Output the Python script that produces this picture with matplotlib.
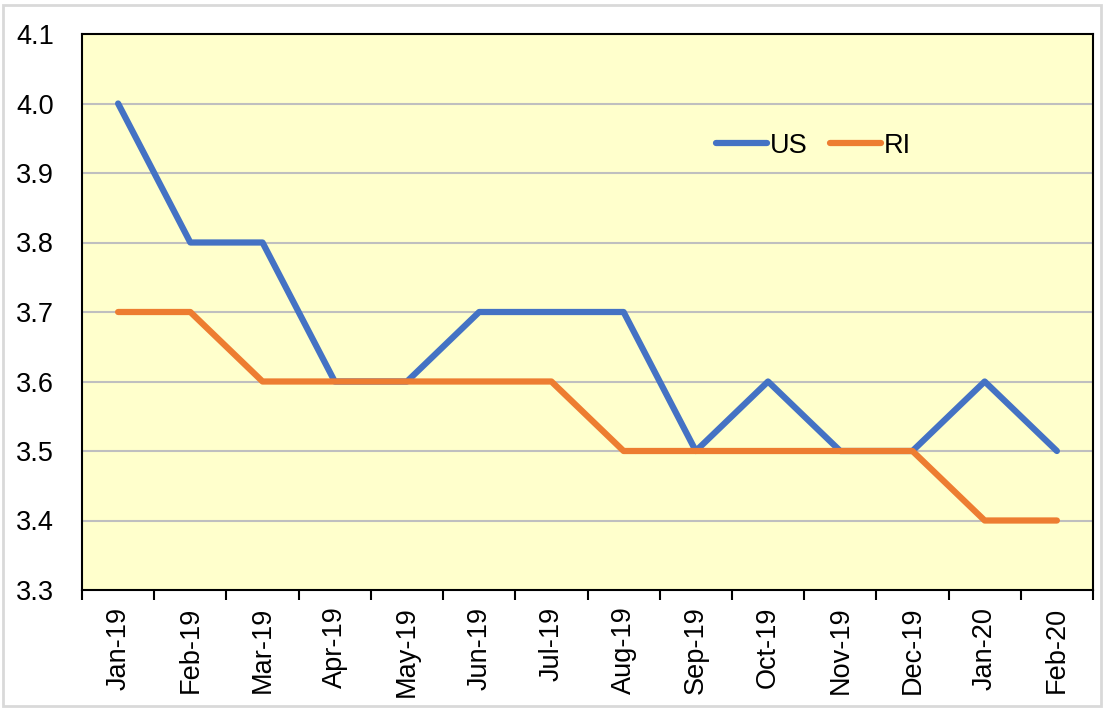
import matplotlib
matplotlib.use("Agg")
from matplotlib import pyplot as plt
from matplotlib.patches import Rectangle

meses = ["Jan-19", "Feb-19", "Mar-19", "Apr-19", "May-19", "Jun-19", "Jul-19",
         "Aug-19", "Sep-19", "Oct-19", "Nov-19", "Dec-19", "Jan-20", "Feb-20"]
us = [4.0, 3.8, 3.8, 3.6, 3.6, 3.7, 3.7, 3.7, 3.5, 3.6, 3.5, 3.5, 3.6, 3.5]
ri = [3.7, 3.7, 3.6, 3.6, 3.6, 3.6, 3.6, 3.5, 3.5, 3.5, 3.5, 3.5, 3.4, 3.4]
yticks = [3.3, 3.4, 3.5, 3.6, 3.7, 3.8, 3.9, 4.0, 4.1]

plt.rcParams['font.family'] = ['Liberation Sans', 'DejaVu Sans']

fig = plt.figure(figsize=(11.04, 7.08), dpi=100)
fig.patches.append(Rectangle((0.003, 0.003), 0.994, 0.99, transform=fig.transFigure,
                             fill=False, edgecolor="#d9d9d9", linewidth=2))
ax = fig.add_axes([82/1104, 1 - 590/708, (1093 - 82)/1104, (590 - 34)/708])
ax.set_facecolor("#FFFFCC")

x = list(range(len(meses)))
ax.plot(x, us, color="#4472C4", linewidth=4.5, solid_capstyle="round",
        solid_joinstyle="round", label="US", zorder=3)
ax.plot(x, ri, color="#ED7D31", linewidth=4.5, solid_capstyle="round",
        solid_joinstyle="round", label="RI", zorder=3)

ax.set_xlim(-0.5, len(meses) - 0.5)
ax.set_ylim(3.3, 4.1)
ax.set_yticks(yticks)
ax.set_yticklabels(["{:.1f}".format(v) for v in yticks], fontsize=19.5)
ax.tick_params(axis="y", length=0, pad=20)
for v in yticks[1:-1]:
    ax.axhline(v, color="#BFBFBF", linewidth=1.5, zorder=1)

ax.set_xticks(x)
ax.set_xticklabels(meses, rotation=90, fontsize=19.5)
ax.tick_params(axis="x", which="major", length=0, pad=12)
ax.set_xticks([i - 0.5 for i in range(len(meses) + 1)], minor=True)
ax.tick_params(axis="x", which="minor", length=7, width=1.5, color="black")

for s in ax.spines.values():
    s.set_linewidth(1.5)
    s.set_color("black")

ax.legend(loc="upper left", bbox_to_anchor=(0.603, 0.866), ncol=2, frameon=False,
          fontsize=19.5, handlelength=1.9, handletextpad=0.1, columnspacing=0.8)

fig.savefig("out.png", dpi=100)
